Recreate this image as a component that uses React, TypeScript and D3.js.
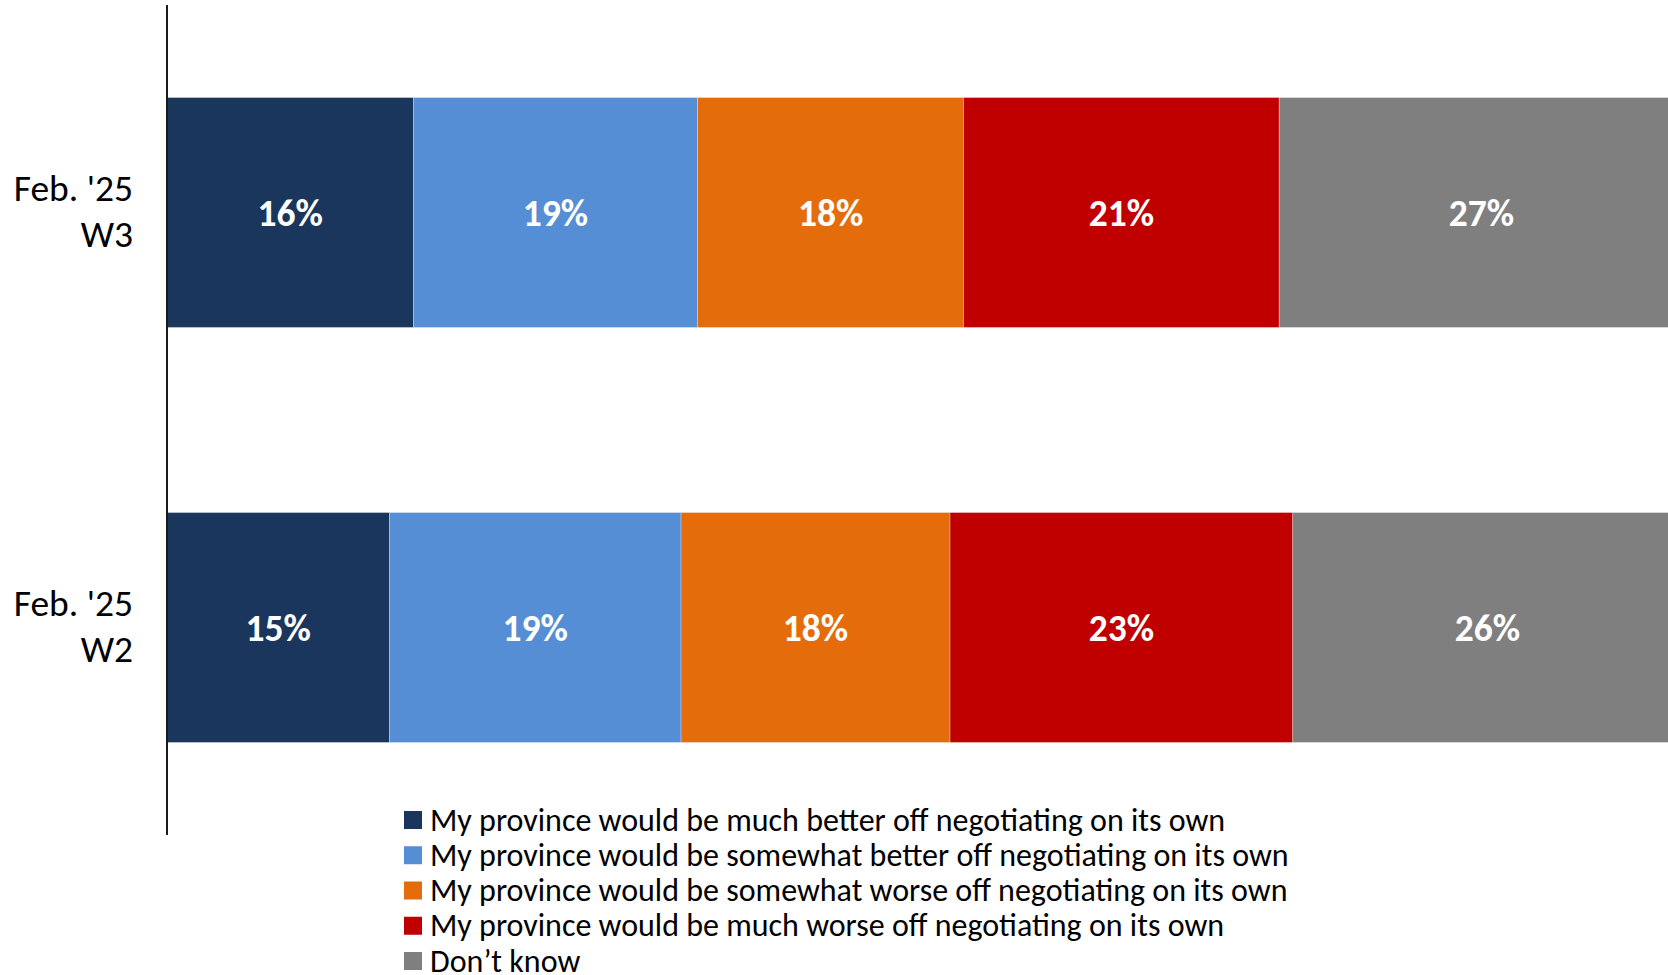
import React from "react";
import * as d3 from "d3";

// categories (top to bottom)
const waves = ["Feb. '25 W3", "Feb. '25 W2"];

// series, left to right
const seriesNames = [
  "My province would be much better off negotiating on its own",
  "My province would be somewhat better off negotiating on its own",
  "My province would be somewhat worse off negotiating on its own",
  "My province would be much worse off negotiating on its own",
  "Don\u2019t know",
];
const seriesColors = ["#1B365D", "#558ED5", "#E46C0A", "#C00000", "#7F7F7F"];

// values per wave (% of respondents), same order as seriesNames
const w3Values = [16.4, 18.9, 17.7, 21.0, 26.9];
const w2Values = [14.8, 19.4, 17.9, 22.8, 25.9];
const w3Labels = ["16%", "19%", "18%", "21%", "27%"];
const w2Labels = ["15%", "19%", "18%", "23%", "26%"];

const W = 1668;
const H = 975;
const axisX = 167;
const font = "Carlito, Calibri, 'Open Sans', sans-serif";

export default function App() {
  const rows = [
    { wave: waves[0], values: w3Values, labels: w3Labels },
    { wave: waves[1], values: w2Values, labels: w2Labels },
  ];

  const x = d3.scaleLinear().domain([0, 100]).range([axisX, 1670]);
  const y = d3
    .scaleBand()
    .domain(waves)
    .range([5, 835])
    .paddingInner(0.446)
    .paddingOuter(0.223);

  const legendY = d3
    .scalePoint()
    .domain(seriesNames)
    .range([820, 961]);

  return (
    <svg
      width={W}
      height={H}
      style={{ position: "absolute", left: 0, top: 0, background: "#fff" }}
      fontFamily={font}
    >
      {rows.map((row) => {
        const stack = d3.cumsum(row.values);
        const y0 = y(row.wave) as number;
        const bw = y.bandwidth();
        const cy = y0 + bw / 2;
        const [l1, l2] = [row.wave.slice(0, 8), row.wave.slice(9)];
        return (
          <g key={row.wave}>
            {row.values.map((v, i) => {
              const start = i === 0 ? 0 : stack[i - 1];
              const x0 = x(start);
              const x1 = x(start + v);
              return (
                <g key={i}>
                  <rect
                    x={x0}
                    y={y0}
                    width={x1 - x0}
                    height={bw}
                    fill={seriesColors[i]}
                    stroke="#ffffff"
                    strokeOpacity={0.35}
                    strokeWidth={0.8}
                  />
                  <text
                    x={(x0 + x1) / 2}
                    y={cy}
                    dy="0.35em"
                    textAnchor="middle"
                    fill="#fff"
                    fontWeight="bold"
                    fontSize={37.5}
                  >
                    {row.labels[i]}
                  </text>
                </g>
              );
            })}
            <text x={133} y={cy - 12} textAnchor="end" fontSize={37.5} fill="#000">
              {l1}
            </text>
            <text x={133} y={cy + 34} textAnchor="end" fontSize={37.5} fill="#000">
              {l2}
            </text>
          </g>
        );
      })}

      <line x1={axisX} x2={axisX} y1={5} y2={835} stroke="#1a1a1a" strokeWidth={2} />

      {seriesNames.map((name, i) => {
        const ly = legendY(name) as number;
        return (
          <g key={name}>
            <rect x={404} y={ly - 9} width={18} height={18} fill={seriesColors[i]} />
            <text x={430} y={ly} dy="0.33em" fontSize={32} fill="#000">
              {name}
            </text>
          </g>
        );
      })}
    </svg>
  );
}
